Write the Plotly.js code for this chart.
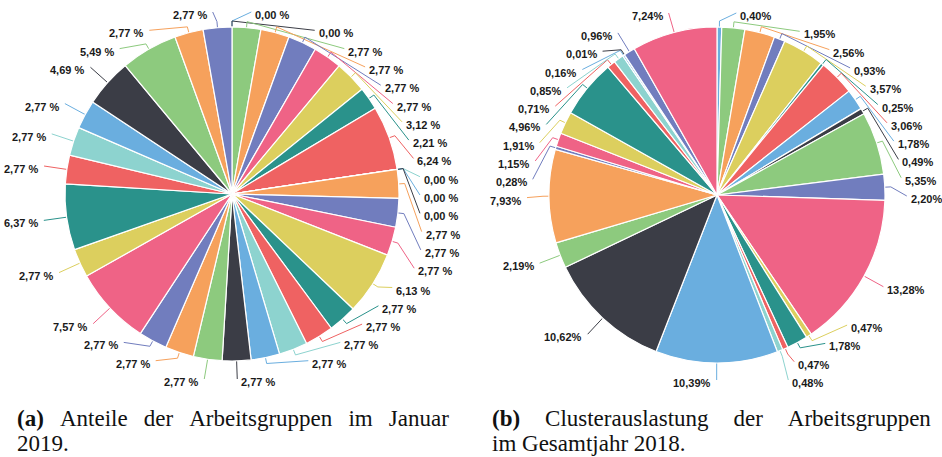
<!DOCTYPE html>
<html><head><meta charset="utf-8">
<script src="https://cdn.plot.ly/plotly-3.0.1.min.js"></script>
<style>html,body{margin:0;padding:0;background:#fff}</style>
</head><body><div id="chart" style="width:942px;height:457px"></div>
<script>
const PALETTE = {green:'#8dca7e', orange:'#f6a15c', purple:'#717dbe', pink:'#ef6386', yellow:'#dccf5e',
  teal:'#2a928b', red:'#ef6262', cyan:'#8dd3cf', lblue:'#6aaedf', dark:'#3b3d46'};

// (a) Anteile der Arbeitsgruppen im Januar 2019 (clockwise from 12 o'clock)
const slicesA = ['A01','A02','A03','A04','A05','A06','A07','A08','A09','A10','A11','A12','A13','A14','A15','A16','A17',
  'A18','A19','A20','A21','A22','A23','A24','A25','A26','A27','A28','A29','A30','A31','A32','A33','A34'];
const valuesA = [0,0,2.77,2.77,2.77,2.77,3.12,2.21,6.24,0,0,0,2.77,2.77,2.77,6.13,2.77,
  2.77,2.77,2.77,2.77,2.77,2.77,2.77,7.57,2.77,6.37,2.77,2.77,2.77,4.69,5.49,2.77,2.77];
const colorsA = ['lblue','dark','green','orange','purple','pink','yellow','teal','red','cyan','lblue','dark','orange','purple','pink','yellow','teal',
  'red','cyan','lblue','dark','green','orange','purple','pink','yellow','teal','red','cyan','lblue','dark','green','orange','purple'];

// (b) Clusterauslastung im Gesamtjahr 2018 (clockwise from 12 o'clock)
const slicesB = ['B01','B02','B03','B04','B05','B06','B07','B08','B09','B10','B11','B12','B13','B14','B15',
  'B16','B17','B18','B19','B20','B21','B22','B23','B24','B25','B26','B27','B28','B29','B30'];
const valuesB = [0.40,1.95,2.56,0.93,3.57,0.25,3.06,1.78,0.49,5.35,2.20,13.28,0.47,1.78,0.47,
  0.48,10.39,10.62,2.19,7.93,0.28,1.15,1.91,4.96,0.71,0.85,0.16,0.01,0.96,7.24];
const colorsB = ['lblue','green','orange','purple','yellow','teal','red','lblue','dark','green','purple','pink','yellow','teal','red',
  'cyan','lblue','dark','green','orange','purple','pink','yellow','teal','red','cyan','lblue','dark','purple','pink'];

const captionA = ['<b>(a)</b> Anteile der Arbeitsgruppen im Januar', '2019.'];
const captionB = ['<b>(b)</b> Clusterauslastung der Arbeitsgruppen', 'im Gesamtjahr 2018.'];

// ---- geometry / style (pixels) ----
const W = 942, H = 457;
const GEO_A = {cx:232, cy:194, r:167, suffix:' %'};
const GEO_B = {cx:717, cy:195, r:168, suffix:'%'};
const LBL = {ideal:190, rx:185, ry:183, top:179, bottom:188, gap:18.3};
const labelFont = {family:'Liberation Sans, Arial, sans-serif', size:11, color:'#1a1a1a', weight:'bold'};
const capFont = {family:'Liberation Serif, Times New Roman, serif', size:23, color:'#111'};

function pieTrace(labels, values, colors, g){
  return {type:'pie', labels:labels, values:values, sort:false, direction:'clockwise', rotation:0,
    marker:{colors:colors.map(c=>PALETTE[c]), line:{color:'#fff', width:1.2}},
    textinfo:'none', hoverinfo:'skip', showlegend:false,
    domain:{x:[(g.cx-g.r)/W, (g.cx+g.r)/W], y:[1-(g.cy+g.r)/H, 1-(g.cy-g.r)/H]}};
}

// outside labels with connector lines, positions derived from the slice angles
function labelsFor(values, colors, g, traces, annos){
  const total = values.reduce((a,b)=>a+b,0);
  let cum = 0;
  const items = values.map((v,i)=>{
    const th = (cum + v/2)/total*2*Math.PI; cum += v;
    return {i, v, th, side: th <= Math.PI ? 1 : -1, y: g.cy - LBL.ideal*Math.cos(th) + 3};
  });
  [1,-1].forEach(side=>{
    const s = items.filter(it=>it.side===side);
    s.sort((a,b)=> side===1 ? (a.th-b.th || a.i-b.i) : (b.th-a.th || b.i-a.i));
    const top = g.cy - LBL.top, bot = g.cy + LBL.bottom;
    s.forEach((it,k)=>{ it.y = Math.min(Math.max(it.y, top), bot); if(k>0) it.y = Math.max(it.y, s[k-1].y + LBL.gap); });
    for(let k=s.length-1;k>=0;k--){ if(k===s.length-1) s[k].y = Math.min(s[k].y, bot); else s[k].y = Math.min(s[k].y, s[k+1].y - LBL.gap); }
    s.forEach((it,k)=>{ if(k===0) it.y = Math.max(it.y, top); else it.y = Math.max(it.y, s[k-1].y + LBL.gap); });
  });
  items.forEach(it=>{
    const sn = Math.sin(it.th), cs = Math.cos(it.th);
    const yl = it.y - 3;
    const dy = yl - g.cy;
    const ell = LBL.rx*Math.sqrt(Math.max(0, 1-(dy/LBL.ry)*(dy/LBL.ry)));
    const off = Math.max(ell, Math.abs(LBL.ideal*sn));
    const xl = g.cx + it.side*off;
    const col = PALETTE[colors[it.i]];
    traces.push({type:'scatter', mode:'lines', xaxis:'x', yaxis:'y', hoverinfo:'skip', showlegend:false,
      x:[g.cx + g.r*sn, g.cx + (g.r+6)*sn, xl], y:[g.cy - g.r*cs, g.cy - (g.r+6)*cs, yl],
      line:{color:col, width:1}});
    annos.push({xref:'x', yref:'y', x: xl + (it.side===1 ? 2 : -4), y: it.y, xanchor: it.side===1 ? 'left':'right',
      yanchor:'middle', showarrow:false, font:labelFont,
      text: it.v.toFixed(2).replace('.', ',') + g.suffix});
  });
}

const data = [pieTrace(slicesA, valuesA, colorsA, GEO_A), pieTrace(slicesB, valuesB, colorsB, GEO_B)];
const annos = [];
labelsFor(valuesA, colorsA, GEO_A, data, annos);
labelsFor(valuesB, colorsB, GEO_B, data, annos);

// captions (justified look via wider spaces)
const j1 = s => s.replace(/ (?![^<]*>)/g, '\u2002\u2009');
const j2 = s => s.replace(/ (?![^<]*>)/g, '\u2003\u200A');
annos.push({xref:'x', yref:'y', x:15, y:418, xanchor:'left', yanchor:'middle', showarrow:false, font:capFont, text:j1(captionA[0])});
annos.push({xref:'x', yref:'y', x:15, y:443, xanchor:'left', yanchor:'middle', showarrow:false, font:capFont, text:captionA[1]});
annos.push({xref:'x', yref:'y', x:490, y:418, xanchor:'left', yanchor:'middle', showarrow:false, font:capFont, text:j2(captionB[0])});
annos.push({xref:'x', yref:'y', x:490, y:443, xanchor:'left', yanchor:'middle', showarrow:false, font:capFont, text:captionB[1]});

const layout = {
  width:W, height:H, margin:{l:0,r:0,t:0,b:0}, paper_bgcolor:'#fff', plot_bgcolor:'rgba(0,0,0,0)',
  xaxis:{range:[0,W], visible:false, fixedrange:true},
  yaxis:{range:[H,0], visible:false, fixedrange:true},
  annotations:annos
};
Plotly.newPlot('chart', data, layout, {staticPlot:true, displayModeBar:false});
</script></body></html>
